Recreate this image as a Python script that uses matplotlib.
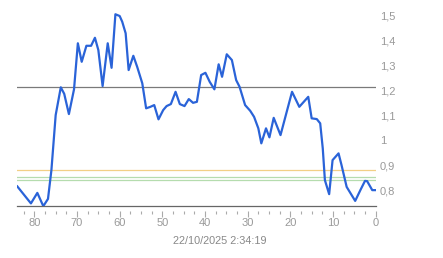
import numpy as np
import matplotlib
matplotlib.use("Agg")
import matplotlib.pyplot as plt
from matplotlib.ticker import MultipleLocator, FuncFormatter

# x = units before the timestamp, y = value
x_vals = [84, 80.8, 79.3, 77.9, 76.8, 76.0, 75.0, 73.8, 73.0, 71.9,
          70.7, 69.8, 68.9, 67.8, 66.7, 65.8, 65.0, 64.0, 62.8, 61.9,
          61.0, 60.0, 59.4, 58.6, 57.9, 56.8, 55.9, 54.7, 53.8, 52.8,
          51.9, 50.9, 49.8, 49.0, 48.0, 46.9, 45.9, 44.8, 43.8, 42.8,
          41.9, 40.9, 39.9, 38.9, 37.8, 36.8, 36.0, 34.9, 33.7, 32.7,
          31.9, 30.6, 29.4, 28.5, 27.5, 26.8, 25.7, 24.9, 23.9, 22.3,
          19.6, 17.9, 15.8, 15.0, 13.8, 13.0, 12.4, 11.9, 10.9, 10.1,
          8.7, 8.0, 6.8, 4.8, 3.5, 2.5, 2.0, 0.8, 0.0]
y_vals = [0.815, 0.747, 0.789, 0.736, 0.765, 0.88, 1.10, 1.211, 1.185, 1.104,
          1.203, 1.387, 1.313, 1.377, 1.377, 1.409, 1.36, 1.216, 1.387, 1.289,
          1.503, 1.496, 1.473, 1.427, 1.28, 1.337, 1.293, 1.227, 1.127, 1.133,
          1.14, 1.083, 1.12, 1.136, 1.144, 1.193, 1.144, 1.136, 1.164, 1.149,
          1.153, 1.26, 1.269, 1.233, 1.203, 1.303, 1.253, 1.343, 1.32, 1.24,
          1.213, 1.14, 1.117, 1.093, 1.047, 0.987, 1.047, 1.011, 1.089, 1.02,
          1.193, 1.133, 1.173, 1.087, 1.084, 1.067, 0.967, 0.84, 0.784, 0.92,
          0.947, 0.9, 0.813, 0.757, 0.803, 0.837, 0.836, 0.8, 0.8]

# reference levels
ref_levels = [1.211, 0.879, 0.851, 0.84]
ref_colors = ['#7a7a7a', '#f2cf86', '#b5dcae', '#b5dcae']

y_ticks = [0.8, 0.9, 1.0, 1.1, 1.2, 1.3, 1.4, 1.5]
timestamp = "22/10/2025 2:34:19"

plt.rcParams['font.family'] = ['Liberation Sans', 'DejaVu Sans']

fig = plt.figure(figsize=(4.43, 2.58), dpi=100)
ax = fig.add_axes([0.039, 0.2, 0.809, 0.8])

for lvl, col in zip(ref_levels, ref_colors):
    ax.axhline(lvl, color=col, linewidth=0.9, zorder=1)

ax.plot(x_vals, y_vals, color='#2a63d8', linewidth=1.6, zorder=3)

ax.set_xlim(84, 0)
ax.set_ylim(0.735, 1.56)

# bottom axis line, ticks sit a little below it
ax.axhline(ax.get_ylim()[0], color='#666666', linewidth=0.9, zorder=2, clip_on=False)
for side in ['top', 'left', 'right']:
    ax.spines[side].set_visible(False)
ax.spines['bottom'].set_visible(False)
ax.spines['bottom'].set_position(('outward', 3.6))

ax.xaxis.set_major_locator(MultipleLocator(10))
ax.xaxis.set_minor_locator(MultipleLocator(2.5))
ax.tick_params(axis='x', which='major', length=4, width=0.8, color='#aaaaaa',
               labelcolor='#999999', labelsize=8, pad=1)
ax.tick_params(axis='x', which='minor', length=1.8, width=0.8, color='#aaaaaa')

ax.yaxis.tick_right()
ax.set_yticks(y_ticks)
ax.yaxis.set_major_formatter(FuncFormatter(lambda v, p: f"{v:g}".replace('.', ',')))
ax.tick_params(axis='y', length=0, pad=3, labelcolor='#999999', labelsize=8)

fig.text(220 / 443, 1 - 240.7 / 258, timestamp, ha='center', va='center',
         fontsize=7.8, color='#888888')

plt.savefig("out.png", dpi=100)
plt.close()
